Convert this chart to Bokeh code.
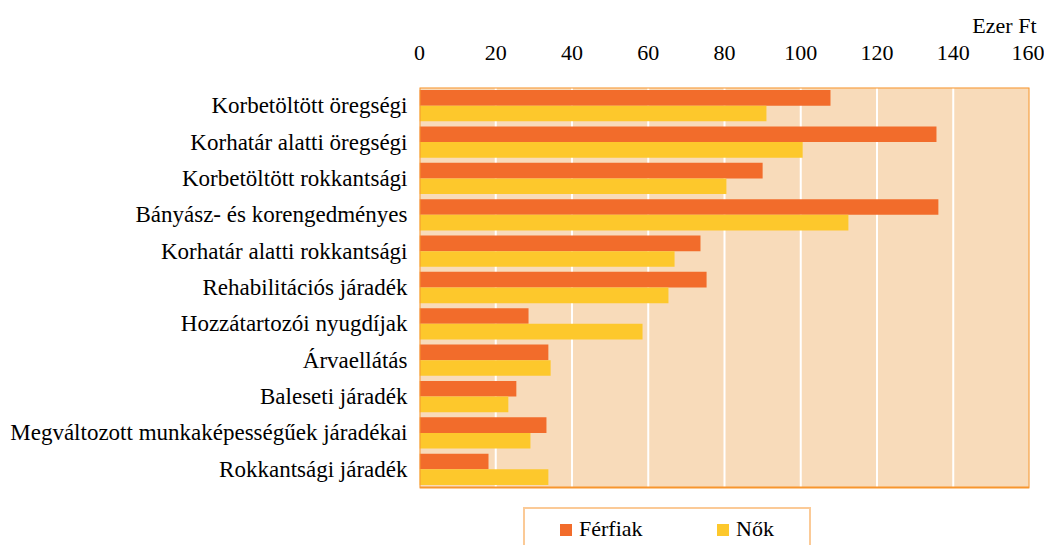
import numpy as np
from bokeh.plotting import figure
from bokeh.models import (Range1d, FixedTicker, Legend, LegendItem,
                          ColumnDataSource)
from bokeh.embed import file_html
from bokeh.resources import INLINE

categories = [
    "Korbetöltött öregségi",
    "Korhatár alatti öregségi",
    "Korbetöltött rokkantsági",
    "Bányász- és korengedményes",
    "Korhatár alatti rokkantsági",
    "Rehabilitációs járadék",
    "Hozzátartozói nyugdíjak",
    "Árvaellátás",
    "Baleseti járadék",
    "Megváltozott munkaképességűek járadékai",
    "Rokkantsági járadék",
]
ferfiak = [107.8, 135.6, 90.0, 136.1, 73.7, 75.3, 28.6, 33.8, 25.4, 33.3, 18.1]
nok = [91.0, 100.5, 80.5, 112.5, 66.9, 65.3, 58.5, 34.4, 23.3, 29.1, 33.8]
x_ticks = [0, 20, 40, 60, 80, 100, 120, 140, 160]
unit_label = "Ezer Ft"
series_names = ["Férfiak", "Nők"]

C_F = "#F26C2B"
C_N = "#FDC82C"
C_BG = "#F8DBBA"
C_BORDER = "#F7962F"
FONT = "Liberation Serif"

n = len(categories)
X_MAX = x_ticks[-1]
# layout in pixels
W, H = 1044, 545
LEFT, RIGHT, TOP = 419, 1029, 87
AREA_BOTTOM = 487
px_per_unit = (AREA_BOTTOM - TOP) / n
y_start = -(H - AREA_BOTTOM) / px_per_unit

centers = np.arange(n)[::-1] + 0.5
src = ColumnDataSource(dict(cat=categories, ferfiak=ferfiak, nok=nok,
                            yf=centers + 0.215, yn=centers - 0.215))

p = figure(width=W, height=H,
           y_range=Range1d(y_start, n),
           x_range=Range1d(0, X_MAX),
           x_axis_location="above",
           title=unit_label,
           output_backend="svg", toolbar_location=None,
           min_border_left=LEFT, min_border_right=W - RIGHT,
           min_border_top=TOP, min_border_bottom=0)

p.background_fill_color = "white"
p.border_fill_color = "white"
p.outline_line_color = None
p.xgrid.grid_line_color = None
p.ygrid.grid_line_color = None

# plot area background
p.quad(left=[0], right=[X_MAX], bottom=[0], top=[n],
       fill_color=C_BG, line_color=None)
# vertical grid lines
p.segment(x0=x_ticks[1:-1], x1=x_ticks[1:-1], y0=[0] * (len(x_ticks) - 2),
          y1=[n] * (len(x_ticks) - 2), line_color="white", line_width=2)

r1 = p.hbar(y="yf", left=0, right="ferfiak", height=0.43, source=src,
            fill_color=C_F, line_color=None)
r2 = p.hbar(y="yn", left=0, right="nok", height=0.43, source=src,
            fill_color=C_N, line_color=None)

# plot area border
p.quad(left=[0], right=[X_MAX], bottom=[0], top=[n],
       fill_color=None, line_color=C_BORDER, line_width=2)

p.title.align = "right"
p.title.text_font = FONT
p.title.text_font_size = "22px"
p.title.text_font_style = "normal"
p.title.text_color = "black"
p.title.offset = -7
p.title.standoff = 10

p.xaxis.ticker = FixedTicker(ticks=x_ticks)
p.yaxis.ticker = FixedTicker(ticks=list(centers))
p.yaxis.major_label_overrides = {float(c): lab for c, lab in zip(centers, categories)}

for ax in (p.xaxis, p.yaxis):
    ax.axis_line_color = None
    ax.major_tick_line_color = None
    ax.minor_tick_line_color = None
    ax.major_tick_in = 0
    ax.major_tick_out = 0
    ax.major_label_text_font = FONT
    ax.major_label_text_color = "black"

p.xaxis.major_label_text_font_size = "22px"
p.xaxis.major_label_standoff = 28
p.yaxis.major_label_text_font_size = "23px"
p.yaxis.major_label_standoff = 12

legend = Legend(items=[LegendItem(label=series_names[0], renderers=[r1]),
                       LegendItem(label=series_names[1], renderers=[r2])],
                orientation="horizontal", location=(104, -6),
                title=" ", title_location="left",
                title_text_font_size="10px", title_standoff=15,
                border_line_color=C_BORDER, border_line_width=2,
                background_fill_color="white", background_fill_alpha=1,
                label_text_font=FONT, label_text_font_size="22px",
                label_text_color="black",
                glyph_width=15, glyph_height=15, label_standoff=6,
                spacing=70, padding=7, label_width=66, margin=0)
p.add_layout(legend)

open("out.html", "w").write(file_html(p, INLINE))
